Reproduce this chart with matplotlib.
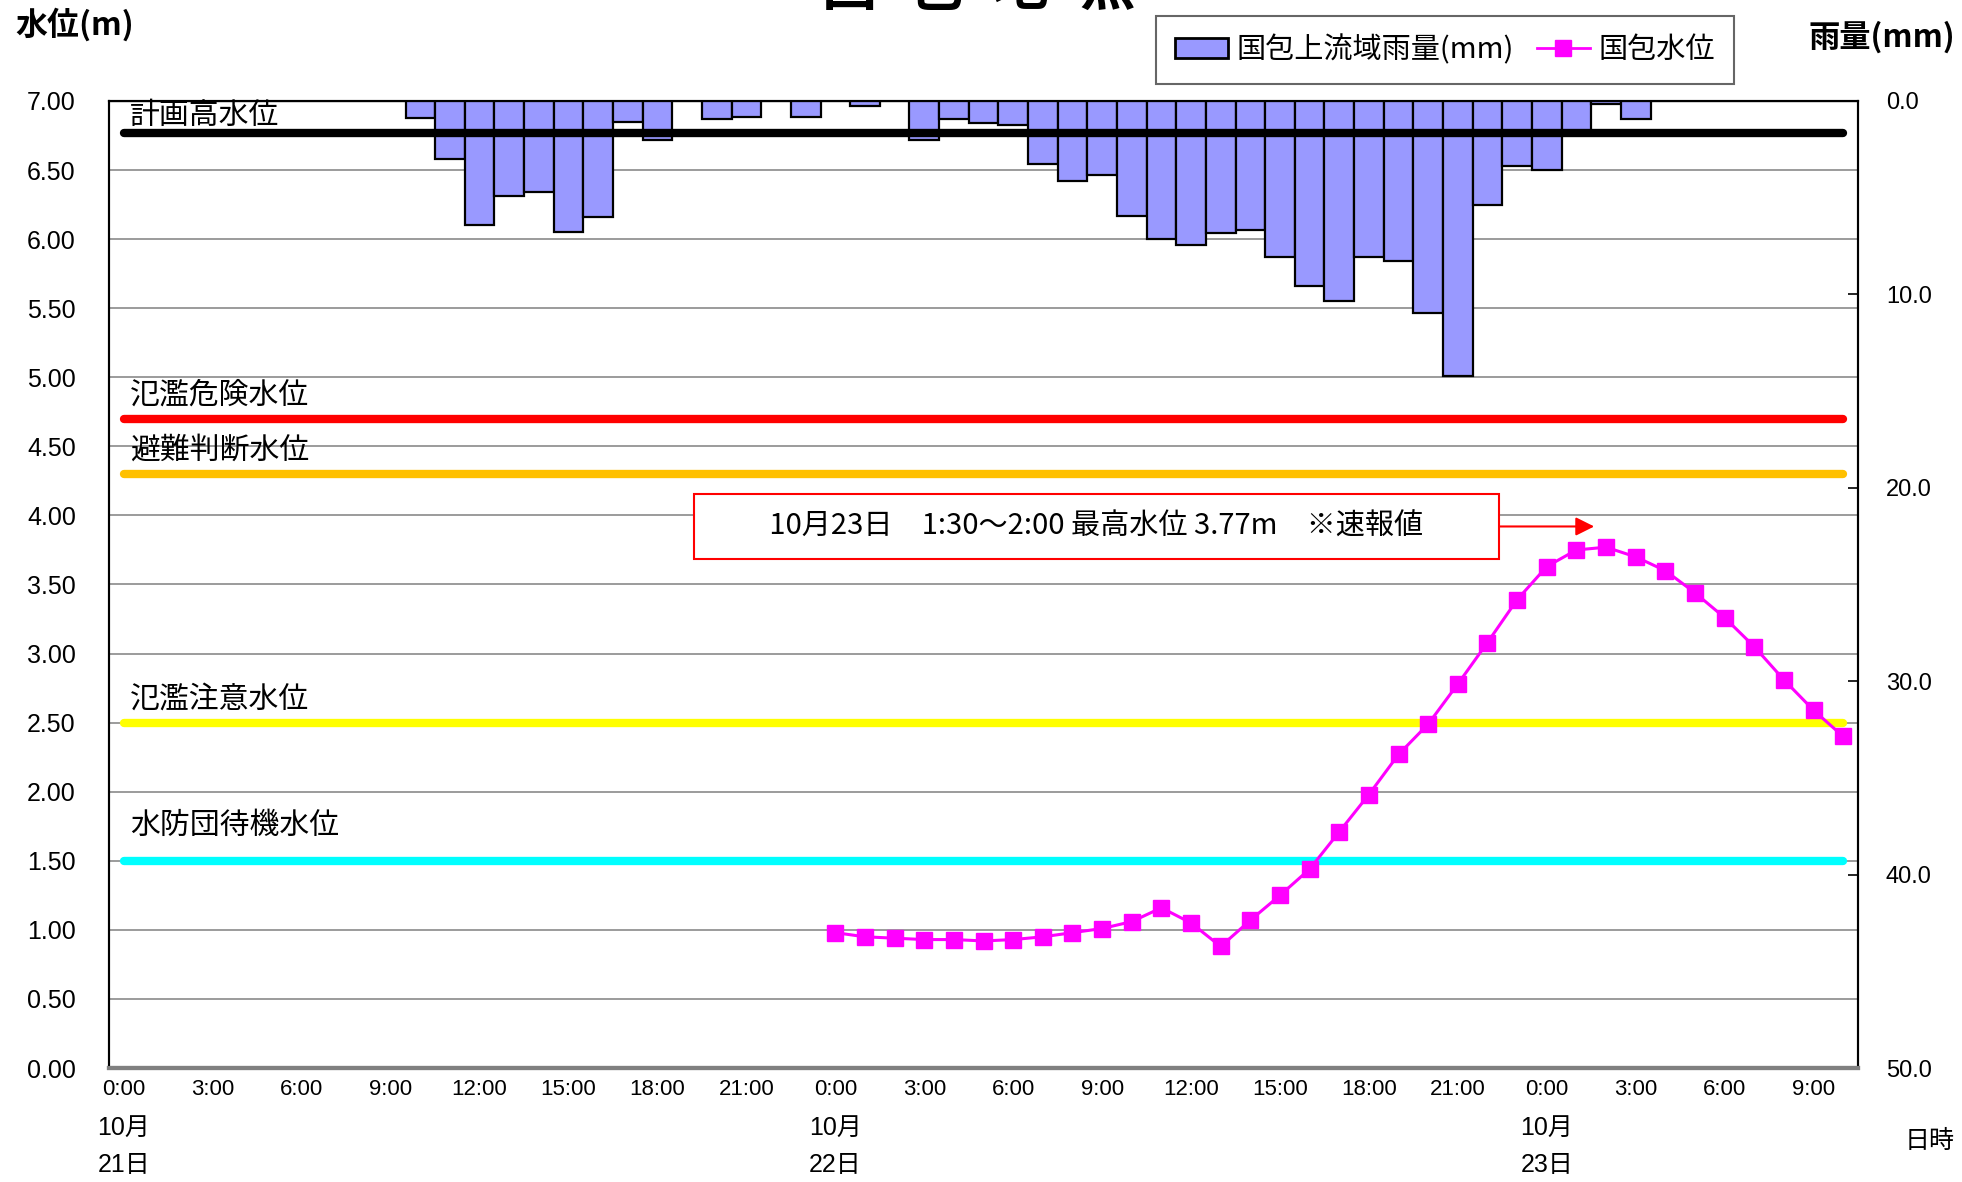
import numpy as np
import matplotlib.pyplot as plt
from matplotlib.patches import Patch
from matplotlib.lines import Line2D
from matplotlib import transforms

plt.rcParams['font.family'] = ['Liberation Sans', 'Noto Sans CJK JP', 'DejaVu Sans']
cjk = ['Noto Sans CJK JP', 'DejaVu Sans']

# hourly data, 10/21 0:00 -> 10/23 10:00
hours = np.arange(59)
tick_labels = ['0:00', '3:00', '6:00', '9:00', '12:00', '15:00', '18:00', '21:00'] * 2 + \
              ['0:00', '3:00', '6:00', '9:00']
date_labels = ['10月\n21日', '10月\n22日', '10月\n23日']
date_pos = [0, 24, 48]

# 国包上流域雨量 (mm)
rain = [0, 0, 0, 0, 0, 0, 0, 0, 0, 0,
        0.9, 3.0, 6.4, 4.9, 4.7, 6.8, 6.0, 1.1, 2.0, 0,
        0.95, 0.85, 0, 0.85, 0, 0.25, 0, 2.0, 0.95, 1.15,
        1.25, 3.25, 4.15, 3.85, 5.95, 7.15, 7.45, 6.85, 6.65, 8.05,
        9.55, 10.35, 8.05, 8.25, 10.95, 14.2, 5.4, 3.35, 3.55, 1.6,
        0.15, 0.95, 0, 0, 0, 0, 0, 0, 0]

# 国包水位 (m), from 10/22 0:00
level = [np.nan] * 24 + [
    0.98, 0.95, 0.94, 0.93, 0.93, 0.92, 0.93, 0.95, 0.98, 1.01,
    1.06, 1.16, 1.05, 0.88, 1.07, 1.25, 1.44, 1.71, 1.98, 2.27,
    2.49, 2.78, 3.08, 3.39, 3.63, 3.75, 3.77, 3.70, 3.60, 3.44,
    3.26, 3.05, 2.81, 2.59, 2.40]

ref_names = ['計画高水位', '氾濫危険水位', '避難判断水位', '氾濫注意水位', '水防団待機水位']
ref_values = [6.77, 4.70, 4.30, 2.50, 1.50]
ref_colors = ['black', '#FF0000', '#FFC000', '#FFFF00', '#00FFFF']
ref_offsets = [1, 6, 6, 6, 14]

fig = plt.figure(figsize=(19.62, 11.82), dpi=100)
ax = fig.add_axes([0.0556, 0.0964, 0.8914, 0.8182])
ax2 = ax.twinx()

# left axis: water level
ax.set_xlim(-0.5, 58.5)
ax.set_ylim(0, 7)
ax.set_yticks(np.arange(0, 7.01, 0.5))
ax.set_yticklabels([f'{v:.2f}' for v in np.arange(0, 7.01, 0.5)], fontsize=18)
ax.yaxis.grid(True, color='#808080', linewidth=1.1)
ax.set_axisbelow(True)
ax.tick_params(axis='y', length=0, pad=24)
ax.set_xticks(hours[::3])
ax.set_xticklabels(tick_labels, fontsize=16)
ax.tick_params(axis='x', length=0, pad=8)

# right axis: rainfall, inverted
ax2.bar(hours, rain, width=1.0, color='#9999FF', edgecolor='black', linewidth=1.6, zorder=2)
ax2.set_ylim(50, 0)
ax2.set_yticks(np.arange(0, 51, 10))
ax2.set_yticklabels([f'{v:.1f}' for v in np.arange(0, 51, 10)], fontsize=17)
ax2.tick_params(axis='y', direction='in', length=7, width=1.2, pad=20)

for sp in ['left', 'top', 'right']:
    ax.spines[sp].set_linewidth(1.5)
    ax2.spines[sp].set_linewidth(1.5)
ax.spines['bottom'].set_color('#808080')
ax.spines['bottom'].set_linewidth(3)
ax2.spines['bottom'].set_color('#808080')
ax2.spines['bottom'].set_linewidth(3)

# reference levels (drawn on top of the bars)
lbl_tr = transforms.blended_transform_factory(ax.transAxes, ax.transData)
for name, val, col, off in zip(ref_names, ref_values, ref_colors, ref_offsets):
    ax2.plot([hours[0], hours[-1]], [val, val], color=col, linewidth=6,
             solid_capstyle='round', transform=ax.transData, zorder=3)
    ax.annotate(name, xy=(0.012, val), xycoords=lbl_tr, xytext=(0, off),
                textcoords='offset points', ha='left', va='bottom',
                fontsize=21.5, family=cjk)

# water level
ax2.plot(hours, level, color='#FF00FF', linewidth=2.2, marker='s', markersize=11,
         transform=ax.transData, zorder=4)

# peak annotation
peak = int(np.nanargmax(level))
ax2.annotate('　　10月23日　1:30～2:00 最高水位 3.77m　※速報値　　',
             xy=(peak - 0.4, level[peak] + 0.15), xycoords=ax.transData,
             xytext=(32.8, level[peak] + 0.15), textcoords=ax.transData,
             ha='center', va='center', fontsize=21, family=cjk, zorder=6,
             bbox=dict(boxstyle='square,pad=0.6', facecolor='white', edgecolor='red', linewidth=1.5),
             arrowprops=dict(arrowstyle='-|>', color='red', lw=1.5, mutation_scale=28,
                             shrinkA=0, shrinkB=0))

# date labels under the axis
date_tr = transforms.blended_transform_factory(ax.transData, ax.transAxes)
for pos, lab in zip(date_pos, date_labels):
    ax.text(pos, -0.081, lab, transform=date_tr, ha='center', va='center',
            fontsize=18, linespacing=1.7)

# axis titles
fig.text(0.008, 0.979, '水位(m)', ha='left', va='center', fontsize=23, fontweight='bold', family=cjk)
fig.text(0.922, 0.968, '雨量(mm)', ha='left', va='center', fontsize=22.5, fontweight='bold', family=cjk)
fig.text(0.9837, 0.0347, '日時', ha='center', va='center', fontsize=18, family=cjk)

# title, mostly cut off at the top edge (as in the source image)
title_chars = '国包地点'
for i, ch in enumerate(title_chars):
    fig.text(0.433 + 0.0437 * i, 1.009, ch, ha='center', va='center',
             fontsize=40, fontweight='bold', family=cjk)

# legend
handles = [Patch(facecolor='#9999FF', edgecolor='black', linewidth=2),
           Line2D([], [], color='#FF00FF', linewidth=2, marker='s', markersize=11)]
leg = fig.legend(handles, ['国包上流域雨量(mm)', '国包水位'], loc='center',
                 bbox_to_anchor=(0.7365, 0.9577), ncol=2, frameon=True, fancybox=False,
                 prop={'family': cjk, 'size': 21}, handlelength=1.8, handletextpad=0.3,
                 columnspacing=0.8, borderpad=0.65)
leg.get_frame().set_edgecolor('#404040')
leg.get_frame().set_linewidth(1.5)

fig.savefig('out.png', dpi=100)
